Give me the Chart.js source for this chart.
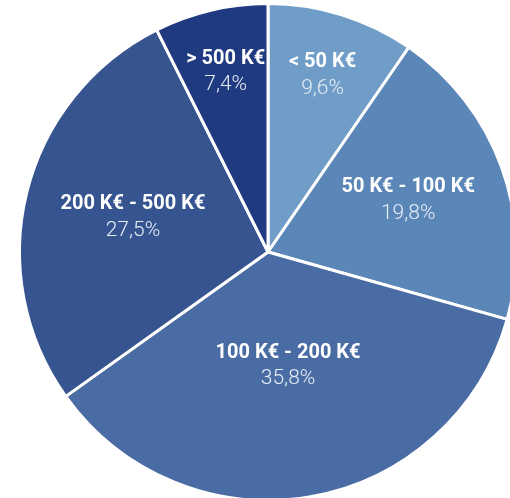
<!DOCTYPE html>
<html>
<head>
<meta charset="utf-8">
<script src="https://cdn.jsdelivr.net/npm/chart.js@4/dist/chart.umd.min.js"></script>
<style>
  html, body { margin: 0; padding: 0; background: #fff; overflow: hidden; }
  #wrap { position: relative; width: 536px; height: 502px; }
</style>
</head>
<body>
<div id="wrap"><canvas id="chart"></canvas></div>
<script>
const categories = ['< 50 K€', '50 K€ - 100 K€', '100 K€ - 200 K€', '200 K€ - 500 K€', '> 500 K€'];
const shares = [9.6, 19.8, 35.8, 27.5, 7.4];
const shareLabels = ['9,6%', '19,8%', '35,8%', '27,5%', '7,4%'];

const sliceColors = ['#6f9dc7', '#5b86b8', '#4a6ca4', '#36548f', '#1f3a80'];
// how far out each label sits, as a share of the radius
const labelRadius = [0.74, 0.6, 0.47, 0.56, 0.74];

// draws the two-line label inside every slice
const sliceLabels = {
  id: 'sliceLabels',
  afterDatasetsDraw(chart) {
    const ctx = chart.ctx;
    chart.getDatasetMeta(0).data.forEach((arc, i) => {
      const mid = (arc.startAngle + arc.endAngle) / 2;
      const r = arc.outerRadius * labelRadius[i];
      const x = arc.x + Math.cos(mid) * r;
      const y = arc.y + Math.sin(mid) * r;
      ctx.save();
      ctx.textAlign = 'center';
      ctx.textBaseline = 'middle';
      ctx.fillStyle = '#ffffff';
      ctx.font = 'bold 20px Roboto';
      ctx.fillText(categories[i], x, y - 14);
      ctx.fillStyle = '#e6edf7';
      ctx.font = '300 21px Roboto';
      ctx.fillText(shareLabels[i], x, y + 12);
      ctx.restore();
    });
  }
};

new Chart(document.getElementById('chart'), {
  type: 'pie',
  data: {
    labels: categories,
    datasets: [{
      data: shares,
      backgroundColor: sliceColors,
      borderColor: '#ffffff',
      borderWidth: 3
    }]
  },
  options: {
    responsive: true,
    maintainAspectRatio: false,
    animation: false,
    layout: { padding: { top: 2 } },
    plugins: {
      legend: { display: false },
      tooltip: { enabled: false }
    }
  },
  plugins: [sliceLabels]
});
</script>
</body>
</html>
